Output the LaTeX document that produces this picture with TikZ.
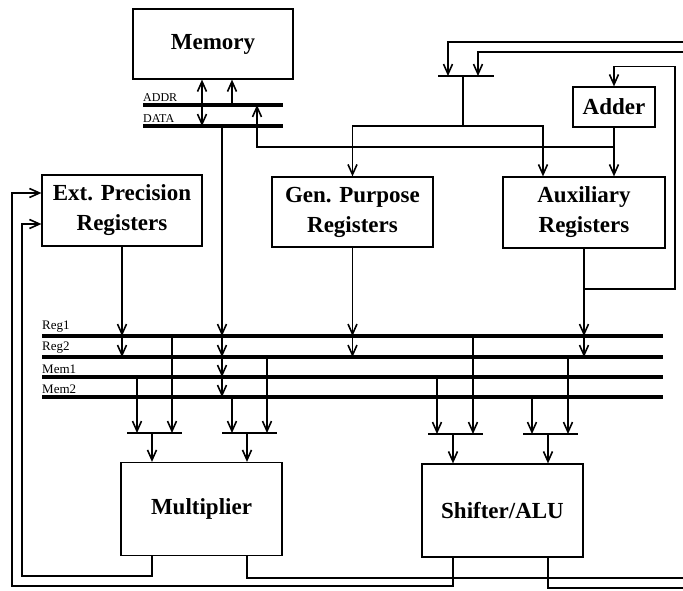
\documentclass[tikz,border=0pt]{standalone}
\usepackage{fontspec}
\setmainfont{Liberation Serif}
\usetikzlibrary{arrows.meta}

\tikzset{
  unit/.style={draw,line width=1.2pt,inner sep=0pt,align=center,
    minimum width=160pt,minimum height=70pt,
    font=\fontsize{23}{30}\selectfont\bfseries},
  bus/.style={line width=3.5pt},
  wire/.style={line width=1.2pt},
  mux/.style={line width=1.6pt},
  buslabel/.style={anchor=south west,inner sep=0pt,
    font=\fontsize{12}{12}\selectfont},
}

\begin{document}
\begin{tikzpicture}[x=1pt,y=-1pt,>={Straight Barb[length=10pt,width=9pt,line width=1.6pt]}]
\useasboundingbox (0,0) rectangle (683,591);

% units
\node[unit] (mem) at (213,44) {Memory};
\node[unit,minimum height=71pt] (ep) at (122,210.5) {Ext. Precision\\Registers};
\node[unit,minimum width=161pt] (gp) at (352.5,212) {Gen. Purpose\\Registers};
\node[unit,minimum width=162pt,minimum height=71pt] (aux) at (584,212.5) {Auxiliary\\Registers};
\node[unit,minimum width=82pt,minimum height=40pt] (add) at (614,107) {Adder};
\node[unit,minimum width=161pt,minimum height=93pt] (mul) at (201.5,509) {Multiplier};
\node[unit,minimum width=161pt,minimum height=93pt] (alu) at (502.5,510.5) {Shifter/ALU};

% memory buses
\coordinate (addr) at (143,105);
\coordinate (data) at (143,126);
\draw[bus] (addr) -- ++(140,0);
\draw[bus] (data) -- ++(140,0);
\node[buslabel] (addrlbl) at ([yshift=3pt]addr) {ADDR};
\node[buslabel] (datalbl) at ([yshift=3pt]data) {DATA};

% operand buses
\coordinate (r1) at (42,336);
\coordinate (r2) at (42,357);
\coordinate (m1) at (42,377);
\coordinate (m2) at (42,397);
\foreach \b/\t in {r1/Reg1,r2/Reg2,m1/Mem1,m2/Mem2}{
  \draw[bus] (\b) -- ++(621,0);
  \node[buslabel,font=\fontsize{13}{13}\selectfont] at ([yshift=3pt]\b) {\t};
}

% memory ports
\draw[wire,<->] ([xshift=-11pt]mem.south) -- ([xshift=-11pt]mem.south |- data);
\draw[wire,->] ([xshift=19pt]mem.south |- addr) -- ([xshift=19pt]mem.south);
\coordinate (dtap) at (222,126);
\draw[wire,->] (dtap) -- (dtap |- r1);
\draw[wire,->] (dtap |- r1) -- (dtap |- r2);
\draw[wire,->] (dtap |- r2) -- (dtap |- m1);
\draw[wire,->] (dtap |- m1) -- (dtap |- m2);

% register files onto Reg1/Reg2
\foreach \n in {ep,gp,aux}{
  \draw[wire,->] (\n.south) -- (\n.south |- r1);
  \draw[wire,->] (\n.south |- r1) -- (\n.south |- r2);
}

% results coming back from the right
\coordinate (fbA) at (683,42);
\coordinate (fbB) at (683,52);
\coordinate (ga) at (438,76);
\draw[mux] (ga) -- ++(56,0);
\draw[wire,->] (fbA) -| ([xshift=10pt]ga);
\draw[wire,->] (fbB) -| ([xshift=40pt]ga);
\coordinate (gj) at (463,126);
\draw[wire] ([xshift=25pt]ga) -- (gj);
\draw[wire,->] (gj) -| (gp.north);
\draw[wire,->] (gj) -| ([xshift=-41pt]aux.north);

% adder loop
\draw[wire,->] (add.south) -- (add.south |- aux.north);
\coordinate (aj) at (614,147);
\draw[wire,->] (aj) -| ([xshift=44pt]mem.south |- addr);
\coordinate (auxj) at (584,289);
\coordinate (auxr) at (675,289);
\draw[wire,->] (auxj) -- (auxr) |- ([yshift=20pt]add.north) -- (add.north);

% multiplier inputs
\coordinate (ma) at (127,433);
\coordinate (mb) at (222,433);
\draw[mux] (ma) -- ++(55,0);
\draw[mux] (mb) -- ++(55,0);
\draw[wire,->] ([xshift=10pt]ma |- m1) -- ([xshift=10pt]ma);
\draw[wire,->] ([xshift=45pt]ma |- r1) -- ([xshift=45pt]ma);
\draw[wire,->] ([xshift=10pt]mb |- m2) -- ([xshift=10pt]mb);
\draw[wire,->] ([xshift=45pt]mb |- r2) -- ([xshift=45pt]mb);
\draw[wire,->] ([xshift=25pt]ma) -- ([xshift=-49.5pt]mul.north);
\draw[wire,->] ([xshift=25pt]mb) -- ([xshift=45.5pt]mul.north);

% shifter/alu inputs
\coordinate (sa) at (428,434);
\coordinate (sb) at (523,434);
\draw[mux] (sa) -- ++(55,0);
\draw[mux] (sb) -- ++(55,0);
\draw[wire,->] ([xshift=9pt]sa |- m1) -- ([xshift=9pt]sa);
\draw[wire,->] ([xshift=45pt]sa |- r1) -- ([xshift=45pt]sa);
\draw[wire,->] ([xshift=9pt]sb |- m2) -- ([xshift=9pt]sb);
\draw[wire,->] ([xshift=45pt]sb |- r2) -- ([xshift=45pt]sb);
\draw[wire,->] ([xshift=25pt]sa) -- ([xshift=-49.5pt]alu.north);
\draw[wire,->] ([xshift=25pt]sb) -- ([xshift=45.5pt]alu.north);

% outputs
\coordinate (lo) at (12,586);
\coordinate (li) at (22,576);
\coordinate (outB) at (683,578);
\coordinate (outA) at (683,588);
\draw[wire,->] ([xshift=-49.5pt]alu.south) |- (lo) |- ([yshift=17.5pt]ep.west);
\draw[wire,->] ([xshift=-49.5pt]mul.south) |- (li) |- ([yshift=-13.5pt]ep.west);
\draw[wire] ([xshift=45.5pt]mul.south) |- (outB);
\draw[wire] ([xshift=45.5pt]alu.south) |- (outA);
\end{tikzpicture}
\end{document}
